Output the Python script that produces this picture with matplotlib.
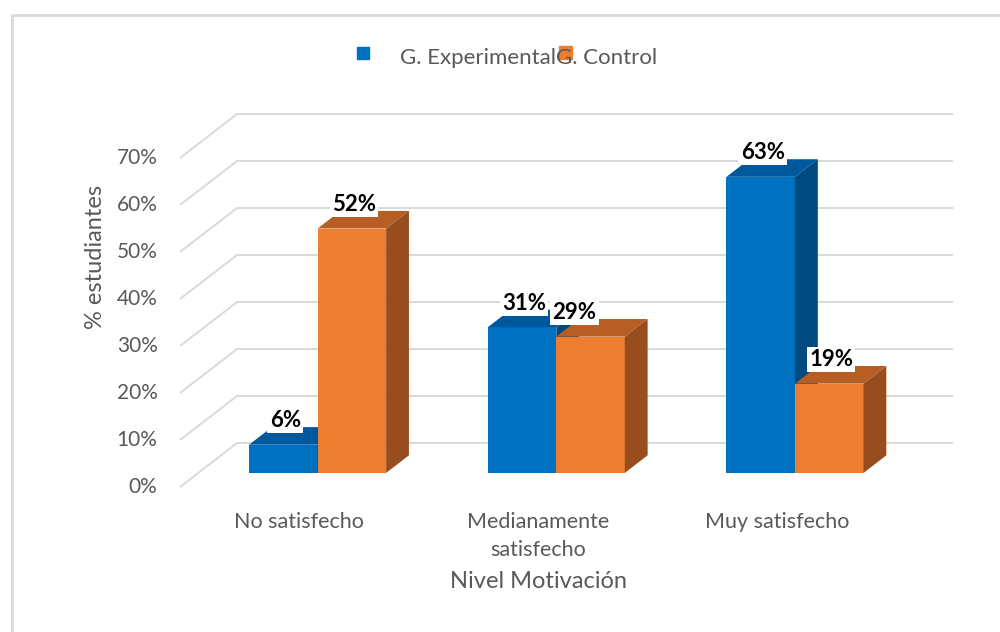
import matplotlib.pyplot as plt
from matplotlib.lines import Line2D
from matplotlib.patches import Rectangle

plt.rcParams['font.family'] = ['Lato', 'DejaVu Sans']

# Data
categories = ['No satisfecho', 'Medianamente\nsatisfecho', 'Muy satisfecho']
series_names = ['G. Experimental', 'G. Control']
experimental = [6, 31, 63]
control = [52, 29, 19]
y_ticks = [0, 10, 20, 30, 40, 50, 60, 70]

front_colors = ['#0070C0', '#ED7D31']
top_colors = ['#00589C', '#B65E23']
side_colors = ['#004A80', '#974D1E']
text_gray = '#595959'
grid_gray = '#D9D9D9'

# 3D look: oblique depth of floor, in data units
depth_dx = 0.239
depth_dy = 9.36
bar_front = 0.32    # fraction of depth where bar front sits
bar_depth = 0.40    # fraction of depth taken by bar
bar_w = 0.287
bar_left = 0.213

fig = plt.figure(figsize=(10, 6.32), dpi=100)
ax = fig.add_axes([0, 0, 1, 1])
ax.set_xlim(-180 / 238.7, 820 / 238.7)
ax.set_ylim(-145 / 4.70, 487 / 4.70)
ax.axis('off')

n = len(categories)

# grid lines: front diagonal + back wall
for v in y_ticks:
    ax.plot([0, depth_dx, n + depth_dx], [v, v + depth_dy, v + depth_dy],
            color=grid_gray, lw=1.4, solid_capstyle='butt', zorder=1)
    ax.text(-0.094, v, f'{v}%', ha='right', va='center', fontsize=15,
            color=text_gray)

sx = bar_front * depth_dx
sy = bar_front * depth_dy
bdx = bar_depth * depth_dx
bdy = bar_depth * depth_dy

label_shift = {(1, 1): -0.075}

z = 2
for i in range(n):
    for s, vals in enumerate([experimental, control]):
        v = vals[i]
        x0 = i + bar_left + s * bar_w + sx
        y0 = sy
        x1 = x0 + bar_w
        top = y0 + v
        ax.fill([x0, x1, x1, x0], [y0, y0, top, top],
                color=front_colors[s], lw=0, zorder=z)
        ax.fill([x0, x1, x1 + bdx, x0 + bdx], [top, top, top + bdy, top + bdy],
                color=top_colors[s], lw=0, zorder=z)
        ax.fill([x1, x1 + bdx, x1 + bdx, x1], [y0, y0 + bdy, top + bdy, top],
                color=side_colors[s], lw=0, zorder=z)
        z += 1
        lx = (x0 + x1) / 2 + 0.008 + label_shift.get((i, s), 0)
        ax.text(lx, top + bdy + 1.4, f'{v}%', ha='center', va='center',
                fontsize=16, fontweight='bold', color='black', zorder=20,
                bbox=dict(boxstyle='square,pad=0.1', fc='white', ec='none'))

# category labels
for i, c in enumerate(categories):
    ax.text(i + 0.5, (487 - 512) / 4.70, c, ha='center', va='top',
            fontsize=15.5, color=text_gray, linespacing=1.5)

ax.text(1.5, (487 - 582) / 4.70, 'Nivel Motivación', ha='center', va='center',
        fontsize=17, color=text_gray)

fig.text(95 / 1000, 1 - 257 / 632, '% estudiantes', rotation=90,
         ha='center', va='center', fontsize=17, color=text_gray)

# legend (as in the original, the two entries overlap)
fig.patches.append(Rectangle((357 / 1000, 1 - 59 / 632), 12 / 1000, 12 / 632,
                             transform=fig.transFigure, color=front_colors[0]))
fig.text(400 / 1000, 1 - 58 / 632, series_names[0], ha='left', va='center',
         fontsize=16, color=text_gray, zorder=3)
fig.patches.append(Rectangle((559 / 1000, 1 - 59 / 632), 13 / 1000, 13 / 632,
                             transform=fig.transFigure, color=front_colors[1]))
fig.text(556 / 1000, 1 - 58 / 632, series_names[1], ha='left', va='center',
         fontsize=16, color=text_gray, zorder=3)

# chart border
fig.lines.append(Line2D([11.5 / 1000, 11.5 / 1000, 1.0], [0, 1 - 15 / 632, 1 - 15 / 632],
                        transform=fig.transFigure, color=grid_gray, lw=2))

fig.savefig('out.png', dpi=100, facecolor='white')
